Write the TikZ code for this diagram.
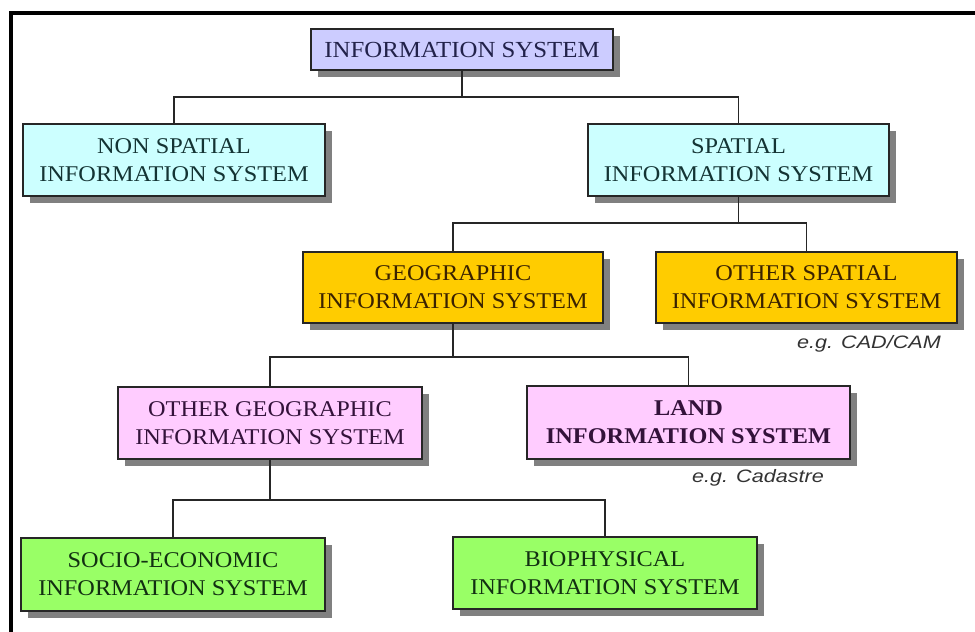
\documentclass[tikz,border=0pt]{standalone}
\usepackage{fontspec}
\setmainfont{Liberation Serif}[FakeStretch=1.08]
\newfontfamily\egfont{Liberation Sans}[FakeStretch=1.2]
\usetikzlibrary{shadows}
\definecolor{cLav}{HTML}{CCCCFF}
\definecolor{cCyan}{HTML}{CCFFFF}
\definecolor{cOrange}{HTML}{FFCC00}
\definecolor{cPink}{HTML}{FFCCFF}
\definecolor{cGreen}{HTML}{99FF66}
\definecolor{cShadow}{HTML}{808080}
\definecolor{tLav}{HTML}{22224A}
\definecolor{tCyan}{HTML}{143434}
\definecolor{tOrange}{HTML}{3A2200}
\definecolor{tPink}{HTML}{33123A}
\definecolor{tGreen}{HTML}{123012}
\tikzset{
  box/.style={draw=black!85, line width=1.2pt, inner sep=0pt, align=center,
    font=\fontsize{22.5}{28}\selectfont,
    drop shadow={shadow xshift=7pt, shadow yshift=-7pt, fill=cShadow, opacity=1}},
  wire/.style={draw=black!85, line width=1.2pt},
  eg/.style={font=\egfont\itshape\fontsize{18}{22}\selectfont, text=black!80, inner sep=0pt}
}
\begin{document}
\begin{tikzpicture}[x=1pt,y=-1pt]
\useasboundingbox (0,0) rectangle (975,632);
\fill[white] (0,0) rectangle (975,632);
\draw[line width=4pt] (11,632) -- (11,12.5) -- (975,12.5);

\node[box, fill=cLav, text=tLav, minimum width=302pt, minimum height=41pt, font=\fontsize{23}{28}\selectfont] (is) at (462,49.5) {INFORMATION SYSTEM};
\node[box, fill=cCyan, text=tCyan, minimum width=302pt, minimum height=72pt] (nsis) at (174,160) {NON SPATIAL\\INFORMATION SYSTEM};
\node[box, fill=cCyan, text=tCyan, minimum width=301pt, minimum height=72pt] (sis) at (738.5,160) {SPATIAL\\INFORMATION SYSTEM};
\node[box, fill=cOrange, text=tOrange, minimum width=300pt, minimum height=71pt] (gis) at (453,287.5) {GEOGRAPHIC\\INFORMATION SYSTEM};
\node[box, fill=cOrange, text=tOrange, minimum width=301pt, minimum height=71pt] (osis) at (806.5,287.5) {OTHER SPATIAL\\INFORMATION SYSTEM};
\node[box, fill=cPink, text=tPink, minimum width=304pt, minimum height=72pt] (ogis) at (270,423) {OTHER GEOGRAPHIC\\INFORMATION SYSTEM};
\node[box, fill=cPink, text=tPink, minimum width=323pt, minimum height=73pt, font=\fontsize{22.5}{28}\selectfont\bfseries] (lis) at (688.5,422.5) {LAND\\INFORMATION SYSTEM};
\node[box, fill=cGreen, text=tGreen, minimum width=304pt, minimum height=73pt] (seis) at (173,574.5) {SOCIO-ECONOMIC\\INFORMATION SYSTEM};
\node[box, fill=cGreen, text=tGreen, minimum width=304pt, minimum height=72pt] (bis) at (605,573) {BIOPHYSICAL\\INFORMATION SYSTEM};

\node[eg, anchor=base east] (egcad) at (941,348) {e.g. CAD/CAM};
\node[eg, anchor=base west] (egcad2) at (692,482) {e.g. Cadastre};

\coordinate (y1) at (0,97);
\coordinate (y2) at (0,223);
\coordinate (y3) at (0,357);
\coordinate (y4) at (0,500);

\draw[wire] (is.south) -- (is.south |- y1);
\draw[wire] (nsis.north) |- (is.south |- y1) -| (sis.north);
\draw[wire] (sis.south) -- (sis.south |- y2);
\draw[wire] (gis.north) |- (sis.south |- y2) -| (osis.north);
\draw[wire] (gis.south) -- (gis.south |- y3);
\draw[wire] (ogis.north) |- (gis.south |- y3) -| (lis.north);
\draw[wire] (ogis.south) -- (ogis.south |- y4);
\draw[wire] (seis.north) |- (ogis.south |- y4) -| (bis.north);
\end{tikzpicture}
\end{document}
